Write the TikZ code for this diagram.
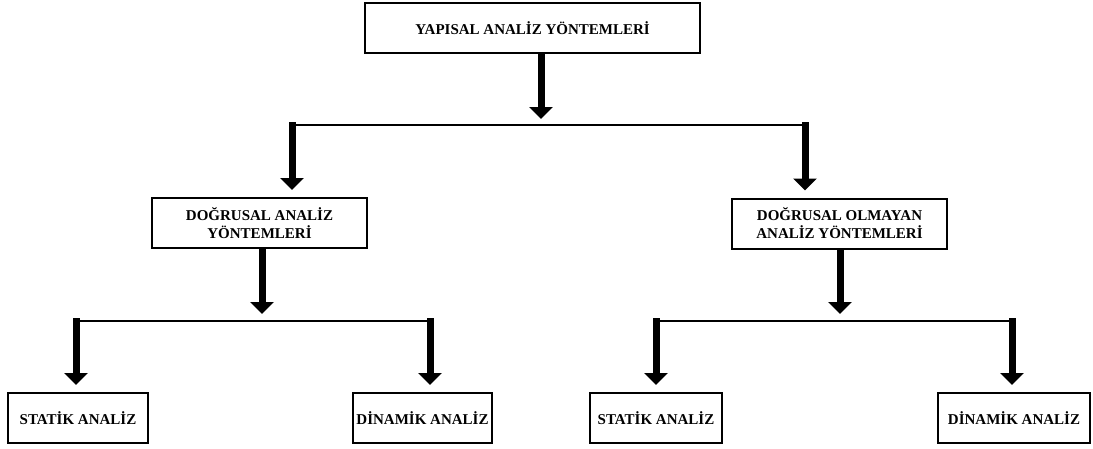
\documentclass[tikz,border=0pt]{standalone}
\usepackage{fontspec}
\setmainfont{Liberation Serif}
\usetikzlibrary{arrows.meta, positioning, calc}

\begin{document}
\begin{tikzpicture}[
  x=1pt, y=-1pt,
  every node/.style={font=\fontsize{15}{18}\selectfont\bfseries, align=center, inner sep=2pt},
  methodbox/.style={draw=black, line width=2pt, fill=white, minimum height=50pt},
  bigarr/.style={-{Triangle[width=23pt, length=12pt]}, line width=7pt, black},
  hline/.style={line width=2.2pt, black}
]
  \useasboundingbox (0,0) rectangle (1093,448);

  % boxes
  \node[methodbox, minimum width=335pt] (top) at (532.5, 28) {YAPISAL ANALİZ YÖNTEMLERİ};
  \node[methodbox, minimum width=215pt] (lin) at (259.5, 223) {DOĞRUSAL ANALİZ\\YÖNTEMLERİ};
  \node[methodbox, minimum width=215pt] (nonlin) at (839.5, 223.5) {DOĞRUSAL OLMAYAN\\ANALİZ YÖNTEMLERİ};
  \node[methodbox, minimum width=140pt] (stat1) at (78, 418) {STATİK ANALİZ};
  \node[methodbox, minimum width=139pt] (dyn1) at (422.5, 418) {DİNAMİK ANALİZ};
  \node[methodbox, minimum width=132pt] (stat2) at (656, 418) {STATİK ANALİZ};
  \node[methodbox, minimum width=152pt] (dyn2) at (1014, 418) {DİNAMİK ANALİZ};

  % junctions
  \coordinate (j0) at (541, 125);
  \coordinate (j0l) at (292, 125);
  \coordinate (j0r) at (805, 125);
  \coordinate (j1) at (262, 321);
  \coordinate (j1l) at (76, 321);
  \coordinate (j1r) at (430, 321);
  \coordinate (j2) at (840, 321);
  \coordinate (j2l) at (656, 321);
  \coordinate (j2r) at (1012, 321);

  % level 1
  \draw[bigarr, shorten >=6pt] (top.south -| j0) -- (j0);
  \draw[hline] (j0l) -- (j0r);
  \draw[bigarr, shorten >=7pt] ([yshift=3pt]j0l) -- (lin.north -| j0l);
  \draw[bigarr, shorten >=7pt] ([yshift=3pt]j0r) -- (nonlin.north -| j0r);

  % level 2, left
  \draw[bigarr, shorten >=7pt] (lin.south -| j1) -- (j1);
  \draw[hline] (j1l) -- (j1r);
  \draw[bigarr, shorten >=7pt] ([yshift=3pt]j1l) -- (stat1.north -| j1l);
  \draw[bigarr, shorten >=7pt] ([yshift=3pt]j1r) -- (dyn1.north -| j1r);

  % level 2, right
  \draw[bigarr, shorten >=7pt] (nonlin.south -| j2) -- (j2);
  \draw[hline] (j2l) -- (j2r);
  \draw[bigarr, shorten >=7pt] ([yshift=3pt]j2l) -- (stat2.north -| j2l);
  \draw[bigarr, shorten >=7pt] ([yshift=3pt]j2r) -- (dyn2.north -| j2r);
\end{tikzpicture}
\end{document}
